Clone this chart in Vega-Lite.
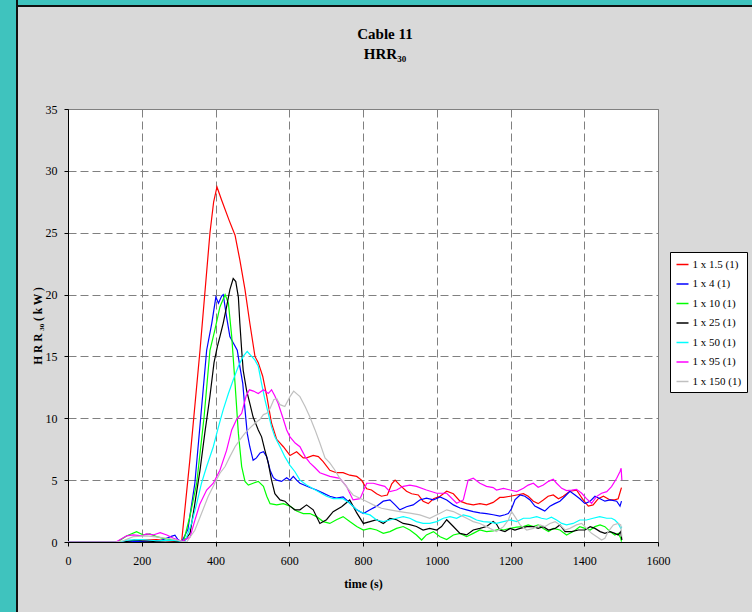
{
  "$schema": "https://vega.github.io/schema/vega-lite/v6.json",
  "background": "#D9D9D9",
  "padding": 0,
  "bounds": "flush",
  "spacing": 0,
  "config": {
    "font": "Liberation Serif",
    "view": {"stroke": null},
    "axis": {
      "domainColor": "#000000", "domainWidth": 1,
      "tickColor": "#000000", "tickWidth": 1, "tickSize": 4,
      "labelColor": "#000000", "labelFont": "Liberation Serif", "labelFontSize": 12, "labelFlush": false,
      "titleColor": "#000000", "titleFont": "Liberation Serif", "titleFontWeight": "bold",
      "gridColor": "#808080", "gridDash": [8, 4], "gridWidth": 1, "gridOpacity": 1
    }
  },
  "datasets": {
    "hrr": [
      {"s":"1 x 1.5 (1)","t":0,"v":0},{"s":"1 x 1.5 (1)","t":150,"v":0},{"s":"1 x 1.5 (1)","t":175,"v":0.1},{"s":"1 x 1.5 (1)","t":200,"v":0.15},{"s":"1 x 1.5 (1)","t":240,"v":0.2},{"s":"1 x 1.5 (1)","t":270,"v":0.1},{"s":"1 x 1.5 (1)","t":308,"v":0},{"s":"1 x 1.5 (1)","t":330,"v":6.5},{"s":"1 x 1.5 (1)","t":358,"v":15.5},{"s":"1 x 1.5 (1)","t":385,"v":25},{"s":"1 x 1.5 (1)","t":395,"v":27.5},{"s":"1 x 1.5 (1)","t":404,"v":28.7},{"s":"1 x 1.5 (1)","t":417,"v":27.6},{"s":"1 x 1.5 (1)","t":437,"v":26},{"s":"1 x 1.5 (1)","t":453,"v":24.8},{"s":"1 x 1.5 (1)","t":466,"v":22.8},{"s":"1 x 1.5 (1)","t":480,"v":20.4},{"s":"1 x 1.5 (1)","t":493,"v":17.7},{"s":"1 x 1.5 (1)","t":507,"v":15},{"s":"1 x 1.5 (1)","t":516,"v":14.5},{"s":"1 x 1.5 (1)","t":528,"v":13.4},{"s":"1 x 1.5 (1)","t":539,"v":11.8},{"s":"1 x 1.5 (1)","t":552,"v":9.6},{"s":"1 x 1.5 (1)","t":566,"v":8.3},{"s":"1 x 1.5 (1)","t":584,"v":7.7},{"s":"1 x 1.5 (1)","t":602,"v":7},{"s":"1 x 1.5 (1)","t":620,"v":7.3},{"s":"1 x 1.5 (1)","t":638,"v":6.8},{"s":"1 x 1.5 (1)","t":647,"v":6.8},{"s":"1 x 1.5 (1)","t":665,"v":7},{"s":"1 x 1.5 (1)","t":679,"v":6.9},{"s":"1 x 1.5 (1)","t":692,"v":6.5},{"s":"1 x 1.5 (1)","t":710,"v":5.8},{"s":"1 x 1.5 (1)","t":728,"v":5.6},{"s":"1 x 1.5 (1)","t":746,"v":5.6},{"s":"1 x 1.5 (1)","t":764,"v":5.4},{"s":"1 x 1.5 (1)","t":783,"v":5.3},{"s":"1 x 1.5 (1)","t":796,"v":5},{"s":"1 x 1.5 (1)","t":810,"v":4.3},{"s":"1 x 1.5 (1)","t":823,"v":4.2},{"s":"1 x 1.5 (1)","t":837,"v":3.9},{"s":"1 x 1.5 (1)","t":850,"v":3.7},{"s":"1 x 1.5 (1)","t":866,"v":3.8},{"s":"1 x 1.5 (1)","t":878,"v":4.7},{"s":"1 x 1.5 (1)","t":887,"v":5},{"s":"1 x 1.5 (1)","t":900,"v":4.6},{"s":"1 x 1.5 (1)","t":918,"v":4.1},{"s":"1 x 1.5 (1)","t":932,"v":3.9},{"s":"1 x 1.5 (1)","t":950,"v":3.8},{"s":"1 x 1.5 (1)","t":963,"v":3.3},{"s":"1 x 1.5 (1)","t":977,"v":3.1},{"s":"1 x 1.5 (1)","t":991,"v":3.5},{"s":"1 x 1.5 (1)","t":1009,"v":3.7},{"s":"1 x 1.5 (1)","t":1027,"v":4.1},{"s":"1 x 1.5 (1)","t":1045,"v":3.9},{"s":"1 x 1.5 (1)","t":1063,"v":3.3},{"s":"1 x 1.5 (1)","t":1081,"v":3.1},{"s":"1 x 1.5 (1)","t":1099,"v":3},{"s":"1 x 1.5 (1)","t":1117,"v":3.1},{"s":"1 x 1.5 (1)","t":1135,"v":3},{"s":"1 x 1.5 (1)","t":1153,"v":3.2},{"s":"1 x 1.5 (1)","t":1171,"v":3.6},{"s":"1 x 1.5 (1)","t":1181,"v":3.6},{"s":"1 x 1.5 (1)","t":1199,"v":3.7},{"s":"1 x 1.5 (1)","t":1217,"v":3.8},{"s":"1 x 1.5 (1)","t":1235,"v":3.9},{"s":"1 x 1.5 (1)","t":1248,"v":3.7},{"s":"1 x 1.5 (1)","t":1262,"v":3.3},{"s":"1 x 1.5 (1)","t":1275,"v":3.1},{"s":"1 x 1.5 (1)","t":1289,"v":3.4},{"s":"1 x 1.5 (1)","t":1302,"v":3.7},{"s":"1 x 1.5 (1)","t":1316,"v":3.8},{"s":"1 x 1.5 (1)","t":1330,"v":3.5},{"s":"1 x 1.5 (1)","t":1343,"v":3.7},{"s":"1 x 1.5 (1)","t":1361,"v":4.1},{"s":"1 x 1.5 (1)","t":1379,"v":4.2},{"s":"1 x 1.5 (1)","t":1397,"v":3.4},{"s":"1 x 1.5 (1)","t":1411,"v":2.9},{"s":"1 x 1.5 (1)","t":1424,"v":3},{"s":"1 x 1.5 (1)","t":1438,"v":3.5},{"s":"1 x 1.5 (1)","t":1452,"v":3.7},{"s":"1 x 1.5 (1)","t":1470,"v":3.4},{"s":"1 x 1.5 (1)","t":1483,"v":3.4},{"s":"1 x 1.5 (1)","t":1492,"v":3.5},{"s":"1 x 1.5 (1)","t":1499,"v":4.2},{"s":"1 x 1.5 (1)","t":1501,"v":4.4},

      {"s":"1 x 4 (1)","t":0,"v":0},{"s":"1 x 4 (1)","t":140,"v":0},{"s":"1 x 4 (1)","t":200,"v":0.05},{"s":"1 x 4 (1)","t":250,"v":0.1},{"s":"1 x 4 (1)","t":280,"v":0.45},{"s":"1 x 4 (1)","t":290,"v":0.55},{"s":"1 x 4 (1)","t":298,"v":0.2},{"s":"1 x 4 (1)","t":308,"v":0},{"s":"1 x 4 (1)","t":325,"v":1},{"s":"1 x 4 (1)","t":344,"v":4.75},{"s":"1 x 4 (1)","t":360,"v":10.1},{"s":"1 x 4 (1)","t":376,"v":15.5},{"s":"1 x 4 (1)","t":390,"v":17.7},{"s":"1 x 4 (1)","t":401,"v":19.8},{"s":"1 x 4 (1)","t":408,"v":19.3},{"s":"1 x 4 (1)","t":417,"v":19.9},{"s":"1 x 4 (1)","t":421,"v":20},{"s":"1 x 4 (1)","t":430,"v":18.2},{"s":"1 x 4 (1)","t":439,"v":16.6},{"s":"1 x 4 (1)","t":448,"v":16.1},{"s":"1 x 4 (1)","t":459,"v":15.5},{"s":"1 x 4 (1)","t":466,"v":14.2},{"s":"1 x 4 (1)","t":474,"v":12.8},{"s":"1 x 4 (1)","t":480,"v":10.7},{"s":"1 x 4 (1)","t":486,"v":8.8},{"s":"1 x 4 (1)","t":493,"v":7.7},{"s":"1 x 4 (1)","t":502,"v":6.6},{"s":"1 x 4 (1)","t":511,"v":6.8},{"s":"1 x 4 (1)","t":521,"v":7.2},{"s":"1 x 4 (1)","t":530,"v":7.3},{"s":"1 x 4 (1)","t":539,"v":6.9},{"s":"1 x 4 (1)","t":548,"v":5.8},{"s":"1 x 4 (1)","t":557,"v":5.2},{"s":"1 x 4 (1)","t":566,"v":5},{"s":"1 x 4 (1)","t":579,"v":4.9},{"s":"1 x 4 (1)","t":593,"v":5.2},{"s":"1 x 4 (1)","t":602,"v":5},{"s":"1 x 4 (1)","t":611,"v":5.3},{"s":"1 x 4 (1)","t":620,"v":5},{"s":"1 x 4 (1)","t":629,"v":4.75},{"s":"1 x 4 (1)","t":656,"v":4.4},{"s":"1 x 4 (1)","t":674,"v":4.2},{"s":"1 x 4 (1)","t":692,"v":3.95},{"s":"1 x 4 (1)","t":710,"v":3.7},{"s":"1 x 4 (1)","t":728,"v":3.55},{"s":"1 x 4 (1)","t":746,"v":3.65},{"s":"1 x 4 (1)","t":764,"v":3.15},{"s":"1 x 4 (1)","t":783,"v":2.6},{"s":"1 x 4 (1)","t":801,"v":2.3},{"s":"1 x 4 (1)","t":819,"v":2.6},{"s":"1 x 4 (1)","t":837,"v":2.9},{"s":"1 x 4 (1)","t":855,"v":3.3},{"s":"1 x 4 (1)","t":873,"v":3.4},{"s":"1 x 4 (1)","t":887,"v":3},{"s":"1 x 4 (1)","t":900,"v":2.6},{"s":"1 x 4 (1)","t":918,"v":2.85},{"s":"1 x 4 (1)","t":936,"v":3},{"s":"1 x 4 (1)","t":954,"v":3.4},{"s":"1 x 4 (1)","t":972,"v":3.55},{"s":"1 x 4 (1)","t":991,"v":3.4},{"s":"1 x 4 (1)","t":1009,"v":3.65},{"s":"1 x 4 (1)","t":1027,"v":3.4},{"s":"1 x 4 (1)","t":1045,"v":3},{"s":"1 x 4 (1)","t":1063,"v":2.75},{"s":"1 x 4 (1)","t":1081,"v":2.6},{"s":"1 x 4 (1)","t":1099,"v":2.45},{"s":"1 x 4 (1)","t":1117,"v":2.35},{"s":"1 x 4 (1)","t":1135,"v":2.3},{"s":"1 x 4 (1)","t":1153,"v":2.2},{"s":"1 x 4 (1)","t":1171,"v":2.1},{"s":"1 x 4 (1)","t":1185,"v":2.2},{"s":"1 x 4 (1)","t":1194,"v":2.3},{"s":"1 x 4 (1)","t":1203,"v":2.7},{"s":"1 x 4 (1)","t":1212,"v":3.4},{"s":"1 x 4 (1)","t":1226,"v":3.8},{"s":"1 x 4 (1)","t":1239,"v":3.7},{"s":"1 x 4 (1)","t":1253,"v":3.4},{"s":"1 x 4 (1)","t":1266,"v":2.9},{"s":"1 x 4 (1)","t":1280,"v":2.7},{"s":"1 x 4 (1)","t":1293,"v":2.5},{"s":"1 x 4 (1)","t":1307,"v":2.9},{"s":"1 x 4 (1)","t":1320,"v":3.1},{"s":"1 x 4 (1)","t":1334,"v":3.3},{"s":"1 x 4 (1)","t":1348,"v":3.7},{"s":"1 x 4 (1)","t":1361,"v":4.1},{"s":"1 x 4 (1)","t":1375,"v":3.8},{"s":"1 x 4 (1)","t":1388,"v":3.5},{"s":"1 x 4 (1)","t":1402,"v":3.1},{"s":"1 x 4 (1)","t":1416,"v":3.3},{"s":"1 x 4 (1)","t":1429,"v":3.7},{"s":"1 x 4 (1)","t":1443,"v":3.5},{"s":"1 x 4 (1)","t":1456,"v":3.3},{"s":"1 x 4 (1)","t":1470,"v":3.4},{"s":"1 x 4 (1)","t":1488,"v":3.3},{"s":"1 x 4 (1)","t":1497,"v":2.9},{"s":"1 x 4 (1)","t":1501,"v":3.3},

      {"s":"1 x 10 (1)","t":0,"v":0},{"s":"1 x 10 (1)","t":130,"v":0},{"s":"1 x 10 (1)","t":136,"v":0.05},{"s":"1 x 10 (1)","t":160,"v":0.5},{"s":"1 x 10 (1)","t":186,"v":0.84},{"s":"1 x 10 (1)","t":204,"v":0.57},{"s":"1 x 10 (1)","t":222,"v":0.65},{"s":"1 x 10 (1)","t":240,"v":0.43},{"s":"1 x 10 (1)","t":258,"v":0.3},{"s":"1 x 10 (1)","t":286,"v":0.16},{"s":"1 x 10 (1)","t":304,"v":0.08},{"s":"1 x 10 (1)","t":313,"v":0},{"s":"1 x 10 (1)","t":330,"v":2},{"s":"1 x 10 (1)","t":349,"v":4.75},{"s":"1 x 10 (1)","t":369,"v":10.1},{"s":"1 x 10 (1)","t":385,"v":15.5},{"s":"1 x 10 (1)","t":398,"v":17.1},{"s":"1 x 10 (1)","t":412,"v":19},{"s":"1 x 10 (1)","t":426,"v":20},{"s":"1 x 10 (1)","t":435,"v":19.3},{"s":"1 x 10 (1)","t":444,"v":16.6},{"s":"1 x 10 (1)","t":453,"v":12.8},{"s":"1 x 10 (1)","t":462,"v":8.8},{"s":"1 x 10 (1)","t":471,"v":6.1},{"s":"1 x 10 (1)","t":480,"v":4.9},{"s":"1 x 10 (1)","t":489,"v":4.6},{"s":"1 x 10 (1)","t":502,"v":4.75},{"s":"1 x 10 (1)","t":516,"v":4.9},{"s":"1 x 10 (1)","t":530,"v":4.5},{"s":"1 x 10 (1)","t":539,"v":3.7},{"s":"1 x 10 (1)","t":548,"v":3.1},{"s":"1 x 10 (1)","t":566,"v":3},{"s":"1 x 10 (1)","t":584,"v":3.1},{"s":"1 x 10 (1)","t":602,"v":2.9},{"s":"1 x 10 (1)","t":620,"v":2.5},{"s":"1 x 10 (1)","t":638,"v":2.3},{"s":"1 x 10 (1)","t":656,"v":2.3},{"s":"1 x 10 (1)","t":674,"v":2.05},{"s":"1 x 10 (1)","t":692,"v":1.65},{"s":"1 x 10 (1)","t":710,"v":1.5},{"s":"1 x 10 (1)","t":728,"v":1.8},{"s":"1 x 10 (1)","t":746,"v":2.05},{"s":"1 x 10 (1)","t":764,"v":1.65},{"s":"1 x 10 (1)","t":783,"v":1.25},{"s":"1 x 10 (1)","t":801,"v":0.97},{"s":"1 x 10 (1)","t":819,"v":1.1},{"s":"1 x 10 (1)","t":837,"v":0.97},{"s":"1 x 10 (1)","t":855,"v":0.7},{"s":"1 x 10 (1)","t":873,"v":0.84},{"s":"1 x 10 (1)","t":891,"v":1.1},{"s":"1 x 10 (1)","t":909,"v":1.25},{"s":"1 x 10 (1)","t":927,"v":0.97},{"s":"1 x 10 (1)","t":945,"v":0.57},{"s":"1 x 10 (1)","t":959,"v":0.16},{"s":"1 x 10 (1)","t":972,"v":0.57},{"s":"1 x 10 (1)","t":991,"v":0.84},{"s":"1 x 10 (1)","t":1009,"v":0.43},{"s":"1 x 10 (1)","t":1027,"v":0.2},{"s":"1 x 10 (1)","t":1045,"v":0.57},{"s":"1 x 10 (1)","t":1063,"v":0.7},{"s":"1 x 10 (1)","t":1081,"v":0.43},{"s":"1 x 10 (1)","t":1099,"v":0.7},{"s":"1 x 10 (1)","t":1117,"v":0.97},{"s":"1 x 10 (1)","t":1135,"v":0.84},{"s":"1 x 10 (1)","t":1153,"v":0.9},{"s":"1 x 10 (1)","t":1171,"v":1.05},{"s":"1 x 10 (1)","t":1181,"v":0.97},{"s":"1 x 10 (1)","t":1199,"v":1.1},{"s":"1 x 10 (1)","t":1217,"v":1.2},{"s":"1 x 10 (1)","t":1235,"v":1.24},{"s":"1 x 10 (1)","t":1248,"v":1.38},{"s":"1 x 10 (1)","t":1262,"v":1.24},{"s":"1 x 10 (1)","t":1275,"v":1.38},{"s":"1 x 10 (1)","t":1289,"v":1.1},{"s":"1 x 10 (1)","t":1303,"v":0.84},{"s":"1 x 10 (1)","t":1316,"v":1.1},{"s":"1 x 10 (1)","t":1334,"v":0.97},{"s":"1 x 10 (1)","t":1352,"v":0.57},{"s":"1 x 10 (1)","t":1370,"v":0.84},{"s":"1 x 10 (1)","t":1388,"v":1.24},{"s":"1 x 10 (1)","t":1402,"v":1.1},{"s":"1 x 10 (1)","t":1416,"v":0.97},{"s":"1 x 10 (1)","t":1429,"v":1.24},{"s":"1 x 10 (1)","t":1443,"v":1.38},{"s":"1 x 10 (1)","t":1456,"v":1.24},{"s":"1 x 10 (1)","t":1470,"v":0.84},{"s":"1 x 10 (1)","t":1483,"v":0.57},{"s":"1 x 10 (1)","t":1492,"v":0.7},{"s":"1 x 10 (1)","t":1499,"v":0.3},{"s":"1 x 10 (1)","t":1501,"v":0.03},

      {"s":"1 x 25 (1)","t":0,"v":0},{"s":"1 x 25 (1)","t":150,"v":0},{"s":"1 x 25 (1)","t":180,"v":0.15},{"s":"1 x 25 (1)","t":200,"v":0.1},{"s":"1 x 25 (1)","t":230,"v":0.05},{"s":"1 x 25 (1)","t":280,"v":0.1},{"s":"1 x 25 (1)","t":313,"v":0},{"s":"1 x 25 (1)","t":331,"v":0.7},{"s":"1 x 25 (1)","t":344,"v":3.1},{"s":"1 x 25 (1)","t":358,"v":5.8},{"s":"1 x 25 (1)","t":371,"v":8.8},{"s":"1 x 25 (1)","t":385,"v":11.8},{"s":"1 x 25 (1)","t":396,"v":14.5},{"s":"1 x 25 (1)","t":405,"v":15.8},{"s":"1 x 25 (1)","t":412,"v":16.6},{"s":"1 x 25 (1)","t":421,"v":17.7},{"s":"1 x 25 (1)","t":430,"v":19},{"s":"1 x 25 (1)","t":439,"v":20.4},{"s":"1 x 25 (1)","t":448,"v":21.3},{"s":"1 x 25 (1)","t":455,"v":21.05},{"s":"1 x 25 (1)","t":462,"v":19.8},{"s":"1 x 25 (1)","t":466,"v":17.7},{"s":"1 x 25 (1)","t":471,"v":15.5},{"s":"1 x 25 (1)","t":475,"v":13.9},{"s":"1 x 25 (1)","t":484,"v":12.3},{"s":"1 x 25 (1)","t":493,"v":11.2},{"s":"1 x 25 (1)","t":502,"v":10.1},{"s":"1 x 25 (1)","t":516,"v":9.06},{"s":"1 x 25 (1)","t":525,"v":8.5},{"s":"1 x 25 (1)","t":534,"v":7.4},{"s":"1 x 25 (1)","t":543,"v":6.4},{"s":"1 x 25 (1)","t":552,"v":5},{"s":"1 x 25 (1)","t":561,"v":3.9},{"s":"1 x 25 (1)","t":575,"v":3.4},{"s":"1 x 25 (1)","t":588,"v":3.3},{"s":"1 x 25 (1)","t":602,"v":2.9},{"s":"1 x 25 (1)","t":615,"v":2.6},{"s":"1 x 25 (1)","t":629,"v":2.6},{"s":"1 x 25 (1)","t":647,"v":3},{"s":"1 x 25 (1)","t":665,"v":2.6},{"s":"1 x 25 (1)","t":683,"v":1.5},{"s":"1 x 25 (1)","t":701,"v":1.8},{"s":"1 x 25 (1)","t":719,"v":2.45},{"s":"1 x 25 (1)","t":742,"v":2.85},{"s":"1 x 25 (1)","t":764,"v":3.4},{"s":"1 x 25 (1)","t":783,"v":2.35},{"s":"1 x 25 (1)","t":801,"v":1.5},{"s":"1 x 25 (1)","t":819,"v":1.65},{"s":"1 x 25 (1)","t":837,"v":1.8},{"s":"1 x 25 (1)","t":855,"v":1.5},{"s":"1 x 25 (1)","t":873,"v":1.9},{"s":"1 x 25 (1)","t":891,"v":1.8},{"s":"1 x 25 (1)","t":909,"v":1.5},{"s":"1 x 25 (1)","t":927,"v":1.4},{"s":"1 x 25 (1)","t":945,"v":1.25},{"s":"1 x 25 (1)","t":963,"v":0.97},{"s":"1 x 25 (1)","t":981,"v":1.1},{"s":"1 x 25 (1)","t":1000,"v":0.97},{"s":"1 x 25 (1)","t":1013,"v":1.25},{"s":"1 x 25 (1)","t":1027,"v":1.8},{"s":"1 x 25 (1)","t":1045,"v":1.25},{"s":"1 x 25 (1)","t":1063,"v":0.7},{"s":"1 x 25 (1)","t":1081,"v":0.57},{"s":"1 x 25 (1)","t":1099,"v":0.97},{"s":"1 x 25 (1)","t":1117,"v":1.1},{"s":"1 x 25 (1)","t":1135,"v":1.25},{"s":"1 x 25 (1)","t":1153,"v":1.65},{"s":"1 x 25 (1)","t":1162,"v":1.45},{"s":"1 x 25 (1)","t":1171,"v":0.97},{"s":"1 x 25 (1)","t":1185,"v":0.84},{"s":"1 x 25 (1)","t":1199,"v":1.1},{"s":"1 x 25 (1)","t":1212,"v":0.97},{"s":"1 x 25 (1)","t":1226,"v":1.1},{"s":"1 x 25 (1)","t":1244,"v":1.24},{"s":"1 x 25 (1)","t":1262,"v":1.24},{"s":"1 x 25 (1)","t":1275,"v":1.1},{"s":"1 x 25 (1)","t":1289,"v":1.24},{"s":"1 x 25 (1)","t":1303,"v":0.97},{"s":"1 x 25 (1)","t":1321,"v":1.1},{"s":"1 x 25 (1)","t":1334,"v":1.38},{"s":"1 x 25 (1)","t":1348,"v":0.84},{"s":"1 x 25 (1)","t":1366,"v":0.84},{"s":"1 x 25 (1)","t":1384,"v":0.97},{"s":"1 x 25 (1)","t":1402,"v":0.97},{"s":"1 x 25 (1)","t":1416,"v":1.24},{"s":"1 x 25 (1)","t":1429,"v":1.1},{"s":"1 x 25 (1)","t":1443,"v":0.84},{"s":"1 x 25 (1)","t":1456,"v":0.7},{"s":"1 x 25 (1)","t":1470,"v":0.84},{"s":"1 x 25 (1)","t":1483,"v":0.7},{"s":"1 x 25 (1)","t":1492,"v":0.57},{"s":"1 x 25 (1)","t":1499,"v":0.84},{"s":"1 x 25 (1)","t":1502,"v":0.16},

      {"s":"1 x 50 (1)","t":0,"v":0},{"s":"1 x 50 (1)","t":140,"v":0},{"s":"1 x 50 (1)","t":160,"v":0.15},{"s":"1 x 50 (1)","t":200,"v":0.2},{"s":"1 x 50 (1)","t":240,"v":0.1},{"s":"1 x 50 (1)","t":280,"v":0.15},{"s":"1 x 50 (1)","t":310,"v":0.05},{"s":"1 x 50 (1)","t":317,"v":0},{"s":"1 x 50 (1)","t":335,"v":1.5},{"s":"1 x 50 (1)","t":349,"v":3.1},{"s":"1 x 50 (1)","t":362,"v":4.75},{"s":"1 x 50 (1)","t":376,"v":6.1},{"s":"1 x 50 (1)","t":394,"v":7.7},{"s":"1 x 50 (1)","t":408,"v":9.3},{"s":"1 x 50 (1)","t":421,"v":10.7},{"s":"1 x 50 (1)","t":435,"v":12},{"s":"1 x 50 (1)","t":448,"v":13.1},{"s":"1 x 50 (1)","t":462,"v":14.2},{"s":"1 x 50 (1)","t":475,"v":15},{"s":"1 x 50 (1)","t":486,"v":15.4},{"s":"1 x 50 (1)","t":495,"v":15.1},{"s":"1 x 50 (1)","t":507,"v":14.7},{"s":"1 x 50 (1)","t":516,"v":14.2},{"s":"1 x 50 (1)","t":525,"v":12.8},{"s":"1 x 50 (1)","t":534,"v":11.5},{"s":"1 x 50 (1)","t":543,"v":10.4},{"s":"1 x 50 (1)","t":552,"v":9.3},{"s":"1 x 50 (1)","t":561,"v":8.5},{"s":"1 x 50 (1)","t":575,"v":7.7},{"s":"1 x 50 (1)","t":588,"v":6.9},{"s":"1 x 50 (1)","t":602,"v":6.2},{"s":"1 x 50 (1)","t":615,"v":5.7},{"s":"1 x 50 (1)","t":629,"v":5},{"s":"1 x 50 (1)","t":647,"v":4.6},{"s":"1 x 50 (1)","t":665,"v":4.3},{"s":"1 x 50 (1)","t":683,"v":4},{"s":"1 x 50 (1)","t":701,"v":3.7},{"s":"1 x 50 (1)","t":719,"v":3.5},{"s":"1 x 50 (1)","t":738,"v":3.5},{"s":"1 x 50 (1)","t":746,"v":3.5},{"s":"1 x 50 (1)","t":764,"v":3.13},{"s":"1 x 50 (1)","t":783,"v":2.6},{"s":"1 x 50 (1)","t":801,"v":2.33},{"s":"1 x 50 (1)","t":819,"v":2.19},{"s":"1 x 50 (1)","t":837,"v":1.78},{"s":"1 x 50 (1)","t":855,"v":1.65},{"s":"1 x 50 (1)","t":873,"v":1.78},{"s":"1 x 50 (1)","t":891,"v":1.92},{"s":"1 x 50 (1)","t":909,"v":2.05},{"s":"1 x 50 (1)","t":927,"v":1.92},{"s":"1 x 50 (1)","t":945,"v":1.65},{"s":"1 x 50 (1)","t":963,"v":1.5},{"s":"1 x 50 (1)","t":981,"v":1.5},{"s":"1 x 50 (1)","t":1000,"v":1.65},{"s":"1 x 50 (1)","t":1018,"v":1.92},{"s":"1 x 50 (1)","t":1036,"v":2.05},{"s":"1 x 50 (1)","t":1054,"v":1.92},{"s":"1 x 50 (1)","t":1072,"v":2.19},{"s":"1 x 50 (1)","t":1090,"v":2.05},{"s":"1 x 50 (1)","t":1108,"v":1.78},{"s":"1 x 50 (1)","t":1126,"v":1.65},{"s":"1 x 50 (1)","t":1144,"v":1.6},{"s":"1 x 50 (1)","t":1162,"v":1.5},{"s":"1 x 50 (1)","t":1181,"v":1.65},{"s":"1 x 50 (1)","t":1199,"v":1.78},{"s":"1 x 50 (1)","t":1217,"v":1.65},{"s":"1 x 50 (1)","t":1235,"v":1.92},{"s":"1 x 50 (1)","t":1253,"v":1.92},{"s":"1 x 50 (1)","t":1271,"v":2.05},{"s":"1 x 50 (1)","t":1284,"v":1.92},{"s":"1 x 50 (1)","t":1298,"v":1.84},{"s":"1 x 50 (1)","t":1311,"v":2},{"s":"1 x 50 (1)","t":1325,"v":1.78},{"s":"1 x 50 (1)","t":1339,"v":1.5},{"s":"1 x 50 (1)","t":1352,"v":1.38},{"s":"1 x 50 (1)","t":1370,"v":1.5},{"s":"1 x 50 (1)","t":1388,"v":1.78},{"s":"1 x 50 (1)","t":1406,"v":1.78},{"s":"1 x 50 (1)","t":1424,"v":1.92},{"s":"1 x 50 (1)","t":1442,"v":2.05},{"s":"1 x 50 (1)","t":1461,"v":1.92},{"s":"1 x 50 (1)","t":1474,"v":1.92},{"s":"1 x 50 (1)","t":1483,"v":1.78},{"s":"1 x 50 (1)","t":1492,"v":1.5},{"s":"1 x 50 (1)","t":1499,"v":1.1},{"s":"1 x 50 (1)","t":1502,"v":1.24},

      {"s":"1 x 95 (1)","t":0,"v":0},{"s":"1 x 95 (1)","t":130,"v":0},{"s":"1 x 95 (1)","t":136,"v":0.1},{"s":"1 x 95 (1)","t":159,"v":0.5},{"s":"1 x 95 (1)","t":177,"v":0.57},{"s":"1 x 95 (1)","t":200,"v":0.5},{"s":"1 x 95 (1)","t":213,"v":0.65},{"s":"1 x 95 (1)","t":231,"v":0.57},{"s":"1 x 95 (1)","t":250,"v":0.75},{"s":"1 x 95 (1)","t":268,"v":0.57},{"s":"1 x 95 (1)","t":286,"v":0.3},{"s":"1 x 95 (1)","t":299,"v":0.16},{"s":"1 x 95 (1)","t":310,"v":0.05},{"s":"1 x 95 (1)","t":331,"v":0.4},{"s":"1 x 95 (1)","t":344,"v":1.75},{"s":"1 x 95 (1)","t":358,"v":3.1},{"s":"1 x 95 (1)","t":376,"v":4.2},{"s":"1 x 95 (1)","t":394,"v":4.75},{"s":"1 x 95 (1)","t":412,"v":5.8},{"s":"1 x 95 (1)","t":430,"v":7.4},{"s":"1 x 95 (1)","t":444,"v":9.06},{"s":"1 x 95 (1)","t":457,"v":9.9},{"s":"1 x 95 (1)","t":471,"v":10.4},{"s":"1 x 95 (1)","t":483,"v":11.8},{"s":"1 x 95 (1)","t":492,"v":12.3},{"s":"1 x 95 (1)","t":503,"v":12.2},{"s":"1 x 95 (1)","t":516,"v":12},{"s":"1 x 95 (1)","t":530,"v":12.3},{"s":"1 x 95 (1)","t":543,"v":12},{"s":"1 x 95 (1)","t":552,"v":12.3},{"s":"1 x 95 (1)","t":561,"v":11.8},{"s":"1 x 95 (1)","t":570,"v":11.2},{"s":"1 x 95 (1)","t":582,"v":10.1},{"s":"1 x 95 (1)","t":593,"v":9.06},{"s":"1 x 95 (1)","t":602,"v":8.5},{"s":"1 x 95 (1)","t":616,"v":8},{"s":"1 x 95 (1)","t":629,"v":7.7},{"s":"1 x 95 (1)","t":643,"v":6.9},{"s":"1 x 95 (1)","t":656,"v":6.4},{"s":"1 x 95 (1)","t":670,"v":6},{"s":"1 x 95 (1)","t":683,"v":5.6},{"s":"1 x 95 (1)","t":710,"v":5.3},{"s":"1 x 95 (1)","t":737,"v":5.15},{"s":"1 x 95 (1)","t":755,"v":4.5},{"s":"1 x 95 (1)","t":773,"v":3.4},{"s":"1 x 95 (1)","t":792,"v":3.5},{"s":"1 x 95 (1)","t":810,"v":4.75},{"s":"1 x 95 (1)","t":828,"v":4.75},{"s":"1 x 95 (1)","t":846,"v":4.6},{"s":"1 x 95 (1)","t":859,"v":4.5},{"s":"1 x 95 (1)","t":873,"v":4.07},{"s":"1 x 95 (1)","t":891,"v":4.2},{"s":"1 x 95 (1)","t":909,"v":4.5},{"s":"1 x 95 (1)","t":927,"v":4.6},{"s":"1 x 95 (1)","t":945,"v":4.5},{"s":"1 x 95 (1)","t":972,"v":4.2},{"s":"1 x 95 (1)","t":1000,"v":3.94},{"s":"1 x 95 (1)","t":1027,"v":3.94},{"s":"1 x 95 (1)","t":1054,"v":3.13},{"s":"1 x 95 (1)","t":1072,"v":3.4},{"s":"1 x 95 (1)","t":1085,"v":5},{"s":"1 x 95 (1)","t":1099,"v":5.15},{"s":"1 x 95 (1)","t":1117,"v":4.75},{"s":"1 x 95 (1)","t":1135,"v":4.5},{"s":"1 x 95 (1)","t":1153,"v":4.4},{"s":"1 x 95 (1)","t":1162,"v":4.2},{"s":"1 x 95 (1)","t":1181,"v":4.34},{"s":"1 x 95 (1)","t":1199,"v":4.2},{"s":"1 x 95 (1)","t":1217,"v":4.07},{"s":"1 x 95 (1)","t":1235,"v":4.34},{"s":"1 x 95 (1)","t":1248,"v":4.6},{"s":"1 x 95 (1)","t":1262,"v":4.75},{"s":"1 x 95 (1)","t":1275,"v":4.42},{"s":"1 x 95 (1)","t":1289,"v":4.6},{"s":"1 x 95 (1)","t":1303,"v":4.9},{"s":"1 x 95 (1)","t":1316,"v":5.07},{"s":"1 x 95 (1)","t":1325,"v":4.75},{"s":"1 x 95 (1)","t":1339,"v":4.34},{"s":"1 x 95 (1)","t":1352,"v":4.15},{"s":"1 x 95 (1)","t":1366,"v":4.2},{"s":"1 x 95 (1)","t":1379,"v":4.26},{"s":"1 x 95 (1)","t":1393,"v":3.94},{"s":"1 x 95 (1)","t":1406,"v":3.5},{"s":"1 x 95 (1)","t":1420,"v":3.13},{"s":"1 x 95 (1)","t":1433,"v":3.67},{"s":"1 x 95 (1)","t":1447,"v":3.94},{"s":"1 x 95 (1)","t":1461,"v":4.07},{"s":"1 x 95 (1)","t":1474,"v":4.48},{"s":"1 x 95 (1)","t":1488,"v":5.15},{"s":"1 x 95 (1)","t":1497,"v":5.7},{"s":"1 x 95 (1)","t":1500,"v":5.96},{"s":"1 x 95 (1)","t":1502,"v":5},

      {"s":"1 x 150 (1)","t":0,"v":0},{"s":"1 x 150 (1)","t":130,"v":0},{"s":"1 x 150 (1)","t":150,"v":0.1},{"s":"1 x 150 (1)","t":177,"v":0.43},{"s":"1 x 150 (1)","t":213,"v":0.5},{"s":"1 x 150 (1)","t":250,"v":0.38},{"s":"1 x 150 (1)","t":286,"v":0.22},{"s":"1 x 150 (1)","t":310,"v":0.05},{"s":"1 x 150 (1)","t":322,"v":0},{"s":"1 x 150 (1)","t":344,"v":0.95},{"s":"1 x 150 (1)","t":362,"v":2.3},{"s":"1 x 150 (1)","t":380,"v":3.67},{"s":"1 x 150 (1)","t":398,"v":4.75},{"s":"1 x 150 (1)","t":412,"v":5.56},{"s":"1 x 150 (1)","t":426,"v":6.1},{"s":"1 x 150 (1)","t":439,"v":6.9},{"s":"1 x 150 (1)","t":453,"v":7.7},{"s":"1 x 150 (1)","t":466,"v":8.25},{"s":"1 x 150 (1)","t":480,"v":8.8},{"s":"1 x 150 (1)","t":493,"v":9.2},{"s":"1 x 150 (1)","t":507,"v":9.6},{"s":"1 x 150 (1)","t":520,"v":9.9},{"s":"1 x 150 (1)","t":530,"v":10.3},{"s":"1 x 150 (1)","t":539,"v":10.4},{"s":"1 x 150 (1)","t":548,"v":10.8},{"s":"1 x 150 (1)","t":558,"v":11.5},{"s":"1 x 150 (1)","t":566,"v":11.6},{"s":"1 x 150 (1)","t":575,"v":11.1},{"s":"1 x 150 (1)","t":588,"v":10.95},{"s":"1 x 150 (1)","t":602,"v":11.75},{"s":"1 x 150 (1)","t":612,"v":12.2},{"s":"1 x 150 (1)","t":629,"v":11.75},{"s":"1 x 150 (1)","t":643,"v":10.95},{"s":"1 x 150 (1)","t":656,"v":10.1},{"s":"1 x 150 (1)","t":670,"v":9.06},{"s":"1 x 150 (1)","t":683,"v":8},{"s":"1 x 150 (1)","t":697,"v":6.8},{"s":"1 x 150 (1)","t":710,"v":6.4},{"s":"1 x 150 (1)","t":724,"v":5.8},{"s":"1 x 150 (1)","t":737,"v":5.15},{"s":"1 x 150 (1)","t":755,"v":4.48},{"s":"1 x 150 (1)","t":773,"v":3.8},{"s":"1 x 150 (1)","t":792,"v":3.54},{"s":"1 x 150 (1)","t":810,"v":3.27},{"s":"1 x 150 (1)","t":828,"v":3},{"s":"1 x 150 (1)","t":850,"v":2.73},{"s":"1 x 150 (1)","t":873,"v":2.6},{"s":"1 x 150 (1)","t":900,"v":2.46},{"s":"1 x 150 (1)","t":927,"v":2.33},{"s":"1 x 150 (1)","t":954,"v":2.19},{"s":"1 x 150 (1)","t":981,"v":1.92},{"s":"1 x 150 (1)","t":1009,"v":2.33},{"s":"1 x 150 (1)","t":1027,"v":2.6},{"s":"1 x 150 (1)","t":1045,"v":2.46},{"s":"1 x 150 (1)","t":1063,"v":2.19},{"s":"1 x 150 (1)","t":1081,"v":1.92},{"s":"1 x 150 (1)","t":1099,"v":1.65},{"s":"1 x 150 (1)","t":1117,"v":1.5},{"s":"1 x 150 (1)","t":1135,"v":1.24},{"s":"1 x 150 (1)","t":1144,"v":1.1},{"s":"1 x 150 (1)","t":1162,"v":0.84},{"s":"1 x 150 (1)","t":1181,"v":1.24},{"s":"1 x 150 (1)","t":1194,"v":1.78},{"s":"1 x 150 (1)","t":1203,"v":2.46},{"s":"1 x 150 (1)","t":1212,"v":2.05},{"s":"1 x 150 (1)","t":1226,"v":1.38},{"s":"1 x 150 (1)","t":1244,"v":0.97},{"s":"1 x 150 (1)","t":1262,"v":1.1},{"s":"1 x 150 (1)","t":1280,"v":1.38},{"s":"1 x 150 (1)","t":1293,"v":1.24},{"s":"1 x 150 (1)","t":1307,"v":1.5},{"s":"1 x 150 (1)","t":1321,"v":1.65},{"s":"1 x 150 (1)","t":1334,"v":1.38},{"s":"1 x 150 (1)","t":1348,"v":0.97},{"s":"1 x 150 (1)","t":1361,"v":1.1},{"s":"1 x 150 (1)","t":1379,"v":1.38},{"s":"1 x 150 (1)","t":1393,"v":1.5},{"s":"1 x 150 (1)","t":1406,"v":1.1},{"s":"1 x 150 (1)","t":1420,"v":0.7},{"s":"1 x 150 (1)","t":1434,"v":0.43},{"s":"1 x 150 (1)","t":1447,"v":0.16},{"s":"1 x 150 (1)","t":1456,"v":0.3},{"s":"1 x 150 (1)","t":1465,"v":0.84},{"s":"1 x 150 (1)","t":1479,"v":1.38},{"s":"1 x 150 (1)","t":1492,"v":1.5},{"s":"1 x 150 (1)","t":1499,"v":1.38},{"s":"1 x 150 (1)","t":1502,"v":0.43}
    ]
  },
  "hconcat": [
    {"width": 16, "height": 612, "data": {"values": []}, "mark": "rect", "encoding": {}, "view": {"fill": "#3FC3BE", "stroke": null}},
    {"width": 2, "height": 612, "data": {"values": []}, "mark": "rect", "encoding": {}, "view": {"fill": "#111111", "stroke": null}},
    {
      "bounds": "flush",
      "spacing": 0,
      "vconcat": [
        {"width": 734, "height": 5, "data": {"values": []}, "mark": "rect", "encoding": {}, "view": {"fill": "#3FC3BE", "stroke": null}},
        {"width": 734, "height": 2, "data": {"values": []}, "mark": "rect", "encoding": {}, "view": {"fill": "#111111", "stroke": null}},
        {"width": 1, "height": 102, "data": {"values": []}, "mark": "rect", "encoding": {}, "view": {"fill": null, "stroke": null}},
        {
          "bounds": "flush",
          "spacing": 0,
          "hconcat": [
            {"width": 50, "height": 1, "data": {"values": []}, "mark": "rect", "encoding": {}, "view": {"fill": null, "stroke": null}},
            {
              "width": 590,
              "height": 433,
              "data": {"name": "hrr"},
              "view": {"fill": "#FFFFFF", "stroke": "#808080", "strokeWidth": 1},
              "title": {
                "text": ["Cable 11", "HRR₃₀"],
                "font": "Liberation Serif",
                "fontSize": 15,
                "fontWeight": "bold",
                "color": "#000000",
                "lineHeight": 20,
                "anchor": "middle",
                "offset": 41,
                "dx": 22
              },
              "mark": {"type": "line", "strokeWidth": 1.2, "clip": true},
              "encoding": {
                "x": {
                  "field": "t", "type": "quantitative",
                  "scale": {"domain": [0, 1600], "nice": false},
                  "axis": {
                    "title": "time (s)",
                    "titleFontSize": 12,
                    "format": "d",
                    "values": [0, 200, 400, 600, 800, 1000, 1200, 1400, 1600],
                    "labelPadding": 9,
                    "titlePadding": 12
                  }
                },
                "y": {
                  "field": "v", "type": "quantitative",
                  "scale": {"domain": [0, 35], "nice": false},
                  "axis": {
                    "title": "H R R ₃₀ ( k W )",
                    "titleFontSize": 11.5,
                    "format": "d",
                    "values": [0, 5, 10, 15, 20, 25, 30, 35],
                    "labelPadding": 7,
                    "titlePadding": 2
                  }
                },
                "color": {
                  "field": "s", "type": "nominal",
                  "scale": {
                    "domain": ["1 x 1.5 (1)", "1 x 4 (1)", "1 x 10 (1)", "1 x 25 (1)", "1 x 50 (1)", "1 x 95 (1)", "1 x 150 (1)"],
                    "range": ["#FF0000", "#0000FF", "#00FF00", "#000000", "#00FFFF", "#FF00FF", "#C0C0C0"]
                  },
                  "legend": {
                    "title": null,
                    "orient": "none",
                    "legendX": 670,
                    "legendY": 252,
                    "symbolType": "stroke",
                    "symbolSize": 144,
                    "symbolStrokeWidth": 1.5,
                    "labelFont": "Liberation Serif",
                    "labelFontSize": 11,
                    "labelColor": "#000000",
                    "labelOffset": 3,
                    "labelLimit": 200,
                    "padding": 5.5,
                    "rowPadding": 7.5,
                    "strokeColor": "#000000",
                    "fillColor": "#FFFFFF",
                    "cornerRadius": 0
                  }
                }
              }
            }
          ]
        }
      ]
    }
  ]
}
